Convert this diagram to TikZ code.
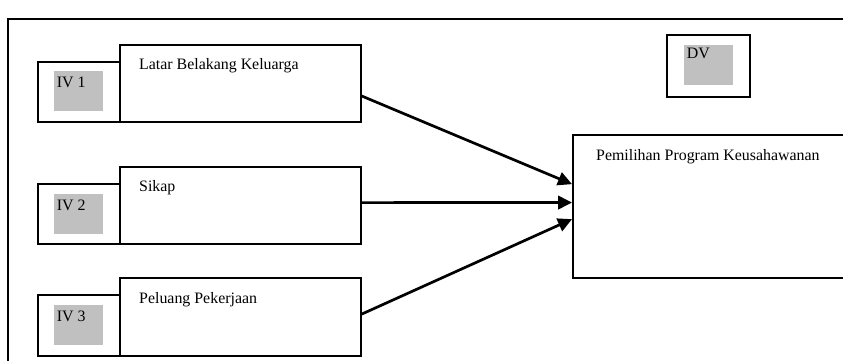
\documentclass[tikz,border=0pt]{standalone}
\usepackage{fontspec}
\setmainfont{Liberation Serif}
\usetikzlibrary{arrows.meta,calc}
\definecolor{boxgray}{RGB}{192,192,192}
\begin{document}
\begin{tikzpicture}[x=1pt,y=-1pt,
  box/.style={draw,line width=1.8pt,inner sep=0pt,anchor=north west},
  graybox/.style={fill=boxgray,inner sep=0pt,anchor=north west,minimum width=48.7pt,minimum height=39.5pt},
  lbl/.style={anchor=base west,inner sep=0pt,font=\fontsize{15.9}{18}\selectfont},
  arr/.style={line width=2.7pt,-{Triangle[length=14pt,width=13.5pt]}}]
\useasboundingbox (0,0) rectangle (843,360);
\clip (0,0) rectangle (843,360);
\draw[line width=1.6pt] (8,19) rectangle (880,400);
% IV 1
\node[box,minimum width=82pt,minimum height=60pt] (s1) at (36.7,61) {};
\node[box,minimum width=241pt,minimum height=77pt] (b1) at (118.7,44) {};
\node[graybox] (g1) at (54,71) {};
\node[lbl] (iv1) at ($(g1.north west)+(2.7,16)$) {IV 1};
\node[lbl] (t1) at ($(b1.north west)+(20.3,25)$) {Latar Belakang Keluarga};
% IV 2
\node[box,minimum width=82pt,minimum height=60.6pt] (s2) at (36.7,182.7) {};
\node[box,minimum width=241pt,minimum height=77.6pt] (b2) at (118.7,165.7) {};
\node[graybox] (g2) at (54,194) {};
\node[lbl] (iv2) at ($(g2.north west)+(2.7,16)$) {IV 2};
\node[lbl] (t2) at ($(b2.north west)+(20.3,26)$) {Sikap};
% IV 3
\node[box,minimum width=82pt,minimum height=60.7pt] (s3) at (36.7,294) {};
\node[box,minimum width=241pt,minimum height=77.4pt] (b3) at (118.7,277.3) {};
\node[graybox] (g3) at (54,305) {};
\node[lbl] (iv3) at ($(g3.north west)+(2.7,16)$) {IV 3};
\node[lbl] (t3) at ($(b3.north west)+(20.3,25.7)$) {Peluang Pekerjaan};
% DV
\node[box,minimum width=82.7pt,minimum height=61.7pt] (dvb) at (666,34) {};
\node[graybox,minimum width=49.4pt,minimum height=39.3pt] (dvg) at (683.3,45) {};
\node[lbl] (dv) at ($(dvg.north west)+(3.4,13)$) {DV};
% main
\node[box,minimum width=300pt,minimum height=143.3pt] (m) at (572,134) {};
\node[lbl] (tm) at ($(m.north west)+(24,26)$) {Pemilihan Program Keusahawanan};
% arrows
\draw[arr] ($(b1.east)+(0,12.5)$) -- ($(m.west)+(0,-22.4)$);
\draw[arr] ($(b2.east)+(0,-2.8)$) -- ($(m.west)+(0,-4)$);
\draw[arr] ($(b3.east)+(0,-2.7)$) -- ($(m.west)+(0,12.6)$);
\end{tikzpicture}
\end{document}
